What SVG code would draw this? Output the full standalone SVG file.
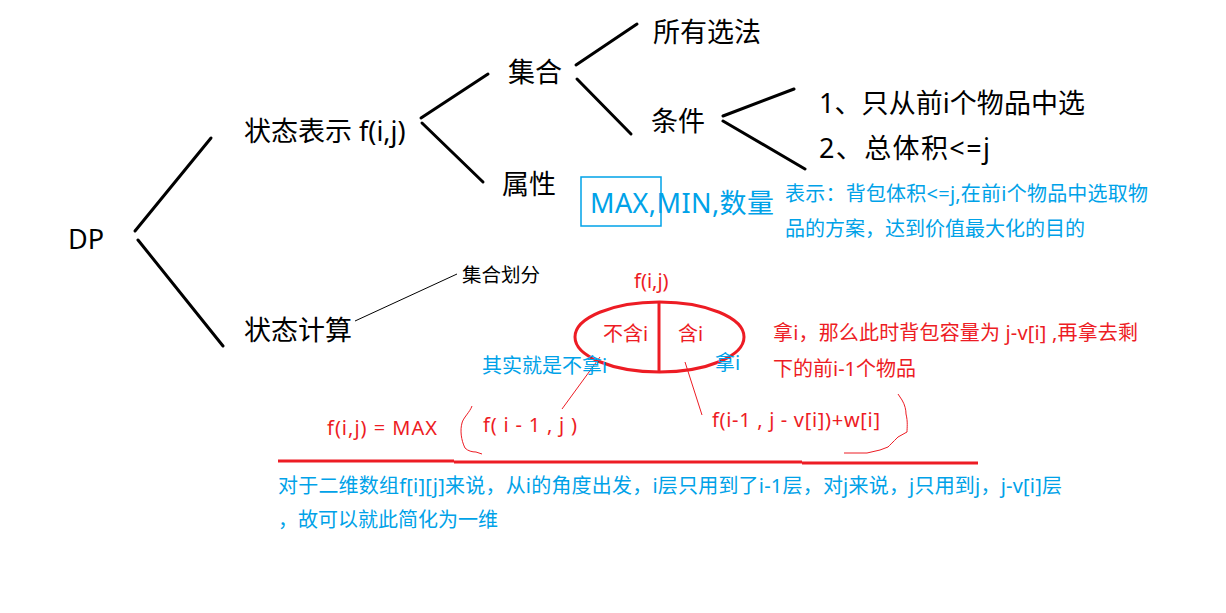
<svg xmlns="http://www.w3.org/2000/svg" width="1226" height="613" viewBox="0 0 1226 613">
<style>
text{font-family:"Noto Sans","Noto Sans CJK SC",sans-serif;}
.k{fill:#000;font-size:27px}
.sm{font-size:19.5px}
.b{fill:#00a2e8;font-size:20px}
.r{fill:#ed1c24;font-size:20px}
.big{font-size:27px}
.ln{stroke:#000;stroke-width:3;fill:none;stroke-linecap:round}
.thin{stroke:#000;stroke-width:1;fill:none}
.rl{stroke:#ed1c24;fill:none}
</style>
<rect width="1226" height="613" fill="#fff"/>
<g id="connectors">
<line class="ln" x1="135" y1="231" x2="211" y2="138"/>
<line class="ln" x1="138" y1="240" x2="223" y2="346"/>
<line class="ln" x1="421" y1="118" x2="488" y2="74"/>
<line class="ln" x1="422" y1="123" x2="483" y2="182"/>
<line class="ln" x1="576" y1="65" x2="637" y2="24"/>
<line class="ln" x1="577" y1="79" x2="631" y2="134"/>
<line class="ln" x1="723" y1="116" x2="794" y2="89"/>
<line class="ln" x1="723" y1="121" x2="805" y2="169"/>
<line class="thin" x1="355" y1="321" x2="457" y2="274"/>
<line class="rl" stroke-width="1" x1="600" y1="357" x2="562" y2="409"/>
<line class="rl" stroke-width="1" x1="685" y1="362" x2="702" y2="415"/>
</g>
<g id="n-dp"><text class="k" x="68" y="249">DP</text></g>
<g id="n-state-rep"><text class="k" x="244" y="141">状态表示 f(i,j)</text></g>
<g id="n-set"><text class="k" x="508" y="82">集合</text></g>
<g id="n-all"><text class="k" x="653" y="42">所有选法</text></g>
<g id="n-cond"><text class="k" x="651" y="131">条件</text></g>
<g id="n-attr"><text class="k" x="502" y="194">属性</text></g>
<g id="n-c1"><text class="k" x="819" y="113" textLength="266" lengthAdjust="spacing">1、只从前i个物品中选</text></g>
<g id="n-c2"><text class="k" x="819" y="158" textLength="171" lengthAdjust="spacing">2、总体积&lt;=j</text></g>
<g id="n-state-calc"><text class="k" x="244" y="340">状态计算</text></g>
<g id="n-partition"><text class="k sm" x="462" y="282">集合划分</text></g>
<g id="n-attr-val">
<rect x="581" y="177" width="80" height="49" fill="none" stroke="#00a2e8" stroke-width="1.5"/>
<text class="b big" x="590" y="213" textLength="184" lengthAdjust="spacing">MAX,MIN,数量</text>
</g>
<g id="n-note1">
<text class="b" x="785" y="201" textLength="363" lengthAdjust="spacing">表示：背包体积&lt;=j,在前i个物品中选取物</text>
<text class="b" x="785" y="236">品的方案，达到价值最大化的目的</text>
</g>
<g id="n-split">
<text class="r" x="634" y="288">f(i,j)</text>
<ellipse cx="659.5" cy="337" rx="84.5" ry="35" fill="none" stroke="#ed1c24" stroke-width="3"/>
<line x1="659" y1="302" x2="659" y2="372" stroke="#ed1c24" stroke-width="3"/>
<text class="r" x="603" y="341">不含i</text>
<text class="r" x="678" y="341">含i</text>
</g>
<g id="n-notake"><text class="b" x="482" y="373">其实就是不拿i</text></g>
<g id="n-take"><text class="b" x="715" y="370">拿i</text></g>
<g id="n-take-note">
<text class="r" x="773" y="340" textLength="365" lengthAdjust="spacing">拿i，那么此时背包容量为 j-v[i] ,再拿去剩</text>
<text class="r" x="773" y="376">下的前i-1个物品</text>
</g>
<g id="n-formula">
<text class="r" x="327" y="435" textLength="110" lengthAdjust="spacing">f(i,j) = MAX</text>
<path class="rl" stroke-width="1" d="M472,406 C470,412 463,418 462,423 C460,430 461,440 465,448 C468,451 472,452 476,452 L482,454"/>
<text class="r" x="483" y="432" textLength="94" lengthAdjust="spacing">f( i - 1 , j )</text>
<text class="r" x="712" y="427" textLength="168" lengthAdjust="spacing">f(i-1 , j - v[i])+w[i]</text>
<path class="rl" stroke-width="1" d="M898,394 L902,400 C905,405 906,410 906,414 C908,422 907,428 907,432 L898,437 C893,442 890,445 888,447 L880,450 L867,453 L844,453"/>
<path class="rl" stroke-width="3" d="M278,461 L454,461 M454,462 L802,462 M802,463 L978,463"/>
</g>
<g id="n-note2">
<text class="b" x="278" y="493" textLength="784" lengthAdjust="spacing">对于二维数组f[i][j]来说，从i的角度出发，i层只用到了i-1层，对j来说，j只用到j，j-v[i]层</text>
<text class="b" x="278" y="527">，故可以就此简化为一维</text>
</g>
</svg>
